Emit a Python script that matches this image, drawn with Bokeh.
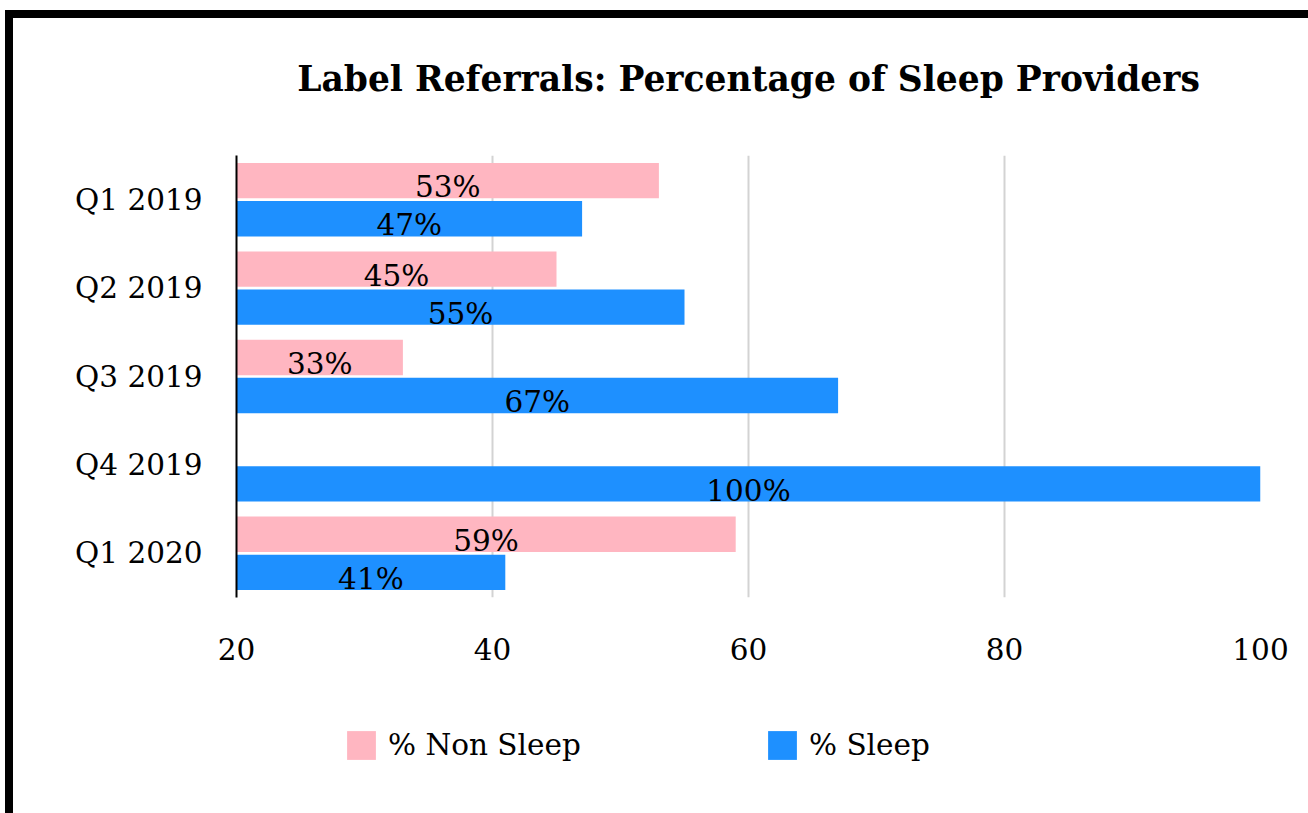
from bokeh.plotting import figure
from bokeh.layouts import column
from bokeh.models import ColumnDataSource, Legend, LegendItem, FactorRange, Range1d, FixedTicker
from bokeh.transform import dodge
from bokeh.core.properties import value
from bokeh.embed import file_html
from bokeh.resources import INLINE

# ---- data ----
quarters = ["Q1 2019", "Q2 2019", "Q3 2019", "Q4 2019", "Q1 2020"]
non_sleep = [53, 45, 33, 0, 59]
sleep = [47, 55, 67, 100, 41]
x_ticks = [20, 40, 60, 80, 100]
series_names = ["% Non Sleep", "% Sleep"]
colors = ["#FFB6C1", "#1E90FF"]
title_text = "Label Referrals: Percentage of Sleep Providers"

X_START, X_END = 20, 100
FONT = "DejaVu Serif"
FS = "29.5px"
W = 1295
H_TITLE = 127
H_MAIN = 533
H_LEG = 135

src = ColumnDataSource(dict(
    q=quarters,
    non_sleep=non_sleep,
    sleep=sleep,
))

lbl_ns = ColumnDataSource(dict(
    q=[q for q, v in zip(quarters, non_sleep) if v > 0],
    x=[(X_START + v) / 2 for v in non_sleep if v > 0],
    t=[f"{v}%" for v in non_sleep if v > 0],
))
lbl_s = ColumnDataSource(dict(
    q=[q for q, v in zip(quarters, sleep) if v > 0],
    x=[(X_START + v) / 2 for v in sleep if v > 0],
    t=[f"{v}%" for v in sleep if v > 0],
))


def strip(height):
    f = figure(width=W, height=height, x_range=Range1d(0, 1), y_range=Range1d(0, 1),
               output_backend="svg", toolbar_location=None,
               min_border_left=223, min_border_right=48,
               min_border_top=0, min_border_bottom=0)
    f.axis.visible = False
    f.grid.visible = False
    f.outline_line_color = None
    f.background_fill_color = "white"
    f.border_fill_color = "white"
    return f


# ---- title strip ----
pt = strip(H_TITLE)
pt.title.text = title_text
pt.title.text_font = FONT
pt.title.text_font_size = "34.5px"
pt.title.text_font_style = "bold"
pt.title.text_color = "black"
pt.title.align = "center"
pt.title.vertical_align = "top"
pt.title.standoff = 80

# ---- main chart ----
p = figure(
    width=W, height=H_MAIN,
    y_range=FactorRange(*reversed(quarters), range_padding=0),
    x_range=Range1d(X_START, X_END),
    output_backend="svg", toolbar_location=None,
)
p.min_border_left = 223
p.min_border_right = 48
p.min_border_top = 10
p.min_border_bottom = 81
p.outline_line_color = None
p.background_fill_color = "white"
p.border_fill_color = "white"

BAR_H = 0.4
OFF = 0.215
p.hbar(y=dodge("q", OFF, range=p.y_range), left=0, right="non_sleep", height=BAR_H,
       source=src, color=colors[0], line_color=None)
p.hbar(y=dodge("q", -OFF, range=p.y_range), left=0, right="sleep", height=BAR_H,
       source=src, color=colors[1], line_color=None)

p.text(x="x", y=dodge("q", OFF - BAR_H / 2, range=p.y_range), text="t", source=lbl_ns,
       text_align="center", text_baseline="alphabetic", y_offset=-11,
       text_font=value(FONT), text_font_size=FS, text_color="black")
p.text(x="x", y=dodge("q", -OFF - BAR_H / 2, range=p.y_range), text="t", source=lbl_s,
       text_align="center", text_baseline="alphabetic", y_offset=-11,
       text_font=value(FONT), text_font_size=FS, text_color="black")

p.xaxis.ticker = FixedTicker(ticks=x_ticks)
p.xaxis.axis_line_color = None
p.xaxis.major_tick_line_color = None
p.xaxis.minor_tick_line_color = None
p.xaxis.major_label_standoff = 34
p.xaxis.major_label_text_font = FONT
p.xaxis.major_label_text_font_size = FS
p.xaxis.major_label_text_color = "black"

p.yaxis.axis_line_color = "black"
p.yaxis.axis_line_width = 2
p.yaxis.major_tick_line_color = None
p.yaxis.minor_tick_line_color = None
p.yaxis.major_label_standoff = 28
p.yaxis.major_label_text_font = FONT
p.yaxis.major_label_text_font_size = FS
p.yaxis.major_label_text_color = "black"

p.ygrid.grid_line_color = None
p.xgrid.grid_line_color = "#d3d3d3"
p.xgrid.grid_line_width = 2
p.xgrid.ticker = FixedTicker(ticks=x_ticks)

# ---- legend strip ----
pl = strip(H_LEG)
# legend proxies: one NaN row so the legend swatch has a style but nothing is drawn
leg_src = ColumnDataSource(dict(y=[float("nan")], right=[float("nan")]))
g_ns = pl.hbar(y="y", right="right", height=0.1, source=leg_src, color=colors[0], line_color=None)
g_s = pl.hbar(y="y", right="right", height=0.1, source=leg_src, color=colors[1], line_color=None)

legend = Legend(items=[LegendItem(label=series_names[0], renderers=[g_ns]),
                       LegendItem(label=series_names[1], renderers=[g_s])],
                orientation="horizontal", location=(107, 50))
legend.label_text_font = FONT
legend.label_text_font_size = FS
legend.label_text_color = "black"
legend.glyph_width = 36
legend.glyph_height = 36
legend.label_height = 29
legend.label_width = 336
legend.label_standoff = 9
legend.spacing = 40
legend.padding = 0
legend.margin = 0
legend.border_line_color = None
legend.background_fill_alpha = 0
pl.add_layout(legend, "center")

layout = column(pt, p, pl, spacing=0)
layout.styles = {"border-top": "8px solid black", "border-left": "8px solid black",
                 "margin-left": "5px", "margin-top": "10px"}

open("out.html", "w").write(file_html(layout, INLINE))
